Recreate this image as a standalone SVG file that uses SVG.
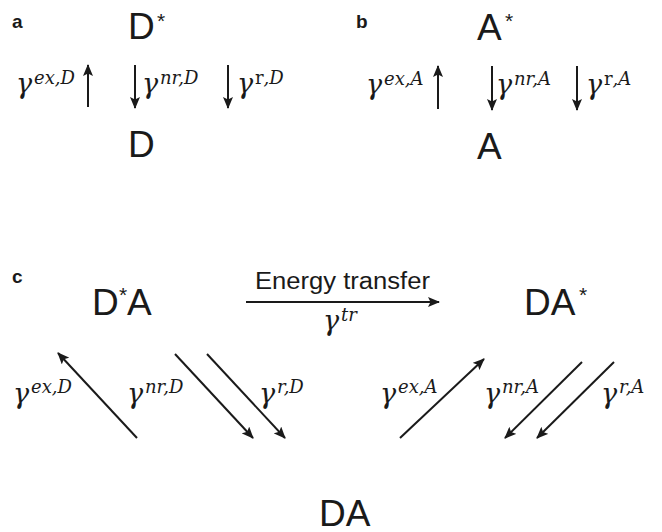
<svg xmlns="http://www.w3.org/2000/svg" width="662" height="532" viewBox="0 0 662 532">
<style>
.big{font-family:"Liberation Sans",Arial,sans-serif;font-size:37px;fill:#1a1a1a}
.ast{font-family:"Liberation Sans",Arial,sans-serif;font-size:21px;fill:#1a1a1a}
.lab{font-family:"Liberation Sans",Arial,sans-serif;font-size:19px;font-weight:bold;fill:#1a1a1a}
.et{font-family:"Liberation Sans",Arial,sans-serif;font-size:23px;fill:#1a1a1a}
.g{font-family:"DejaVu Serif","Liberation Serif",serif;font-style:italic;font-size:27px;fill:#1a1a1a}
.s{font-size:18px}
.rm{font-style:normal}
.arr{stroke:#1a1a1a;stroke-width:2;fill:none;marker-end:url(#ah)}
</style>
<defs>
<marker id="ah" viewBox="0 0 12 10" refX="11" refY="5" markerWidth="6" markerHeight="5" orient="auto" markerUnits="strokeWidth">
<path d="M0,0 L12,5 L0,10 L2.5,5 z" fill="#1a1a1a"/>
</marker>
</defs>

<g id="panel-labels">
<text class="lab" x="12" y="28">a</text>
<text class="lab" x="356" y="28">b</text>
<text class="lab" x="12" y="283">c</text>
</g>

<g id="node-Dstar"><text class="big" x="128" y="39">D</text><text class="ast" x="157" y="28">*</text></g>
<g id="node-D"><text class="big" x="128" y="157">D</text></g>
<g id="node-Astar"><text class="big" x="477" y="40">A</text><text class="ast" x="505" y="28">*</text></g>
<g id="node-A"><text class="big" x="477" y="159">A</text></g>
<g id="node-DstarA"><text class="big" x="92" y="315">D</text><text class="ast" x="119" y="302">*</text><text class="big" x="127" y="315">A</text></g>
<g id="node-DAstar"><text class="big" x="524" y="315">DA</text><text class="ast" x="579" y="302">*</text></g>
<g id="node-DA"><text class="big" x="319" y="526">DA</text></g>

<g id="connectors">
<line class="arr" x1="88" y1="107" x2="88" y2="65"/>
<line class="arr" x1="135" y1="65" x2="135" y2="108"/>
<line class="arr" x1="228" y1="65" x2="228" y2="108"/>
<line class="arr" x1="438" y1="109" x2="438" y2="66"/>
<line class="arr" x1="492" y1="66" x2="492" y2="110"/>
<line class="arr" x1="577" y1="66" x2="577" y2="110"/>
<line class="arr" x1="246" y1="302" x2="439" y2="302"/>
<line class="arr" x1="137" y1="438" x2="58" y2="353"/>
<line class="arr" x1="175" y1="354" x2="253" y2="438"/>
<line class="arr" x1="207" y1="354" x2="285" y2="438"/>
<line class="arr" x1="400" y1="438" x2="484" y2="359"/>
<line class="arr" x1="582" y1="362" x2="505" y2="438"/>
<line class="arr" x1="614" y1="362" x2="537" y2="438"/>
</g>

<g id="labels">
<text class="g" x="16" y="93">γ<tspan class="s" x="34" y="84">ex,D</tspan></text>
<text class="g" x="142" y="93">γ<tspan class="s" x="160" y="84">nr,D</tspan></text>
<text class="g" x="237" y="93">γ<tspan class="s" x="255" y="84"><tspan class="rm">r</tspan>,D</tspan></text>
<text class="g" x="366" y="94">γ<tspan class="s" x="384" y="85">ex,A</tspan></text>
<text class="g" x="496" y="94">γ<tspan class="s" x="514" y="85">nr,A</tspan></text>
<text class="g" x="586" y="94">γ<tspan class="s" x="604" y="85"><tspan class="rm">r</tspan>,A</tspan></text>
<text class="et" x="255" y="289" textLength="175" lengthAdjust="spacingAndGlyphs">Energy transfer</text>
<text class="g" x="323" y="330">γ<tspan class="s" x="341" y="321">tr</tspan></text>
<text class="g" x="13" y="403">γ<tspan class="s" x="31" y="393">ex,D</tspan></text>
<text class="g" x="127" y="403">γ<tspan class="s" x="145" y="393">nr,D</tspan></text>
<text class="g" x="259" y="403">γ<tspan class="s" x="277" y="393">r,D</tspan></text>
<text class="g" x="380" y="403">γ<tspan class="s" x="398" y="393">ex,A</tspan></text>
<text class="g" x="484" y="403">γ<tspan class="s" x="502" y="393">nr,A</tspan></text>
<text class="g" x="601" y="403">γ<tspan class="s" x="619" y="393">r,A</tspan></text>
</g>
</svg>
